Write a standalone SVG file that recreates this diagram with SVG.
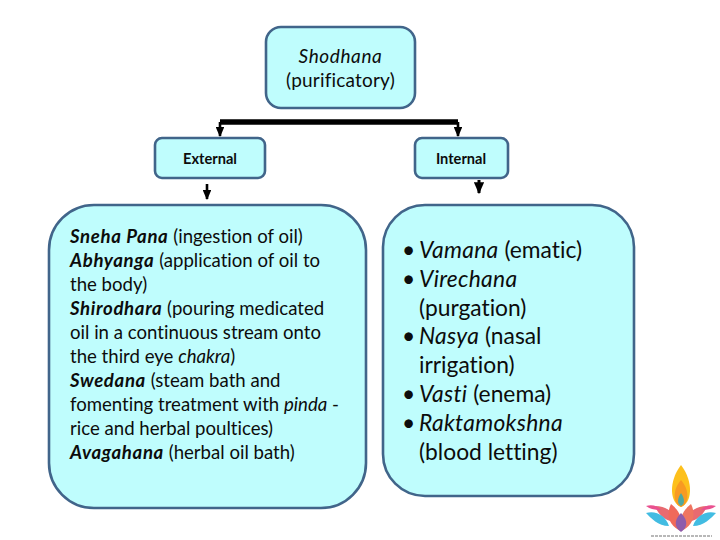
<svg xmlns="http://www.w3.org/2000/svg" width="720" height="540" viewBox="0 0 720 540">
<style>
.box{fill:#bffdfd;stroke:#41658a;stroke-width:2.6}
text{font-family:Lato,"Open Sans","Liberation Sans",sans-serif;fill:#0c0c0c;font-variant-ligatures:none}
.t1{font-size:18.6px}
.t2{font-size:22.8px}
.s{font-size:14.6px;font-weight:700;text-anchor:middle}
.m{font-size:19px;text-anchor:middle;letter-spacing:.2px}
.b{font-weight:700;font-style:italic;letter-spacing:.65px}
.i{font-style:italic}
.t2 .i{letter-spacing:.3px}
.c{fill:none;stroke:#000}
</style>
<defs><marker id="a" markerWidth="4" markerHeight="3.4" refX="3.6" refY="1.7" orient="auto"><path d="M0 0L4 1.7L0 3.4Z" fill="#000"/></marker></defs>
<rect width="720" height="540" fill="#fff"/>
<g id="connectors">
<path class="c" stroke-width="5.5" d="M220 122H458"/>
<path class="c" stroke-width="2.6" marker-end="url(#a)" d="M220 122V136"/>
<path class="c" stroke-width="2.6" marker-end="url(#a)" d="M458 122V136"/>
<path class="c" stroke-width="2.6" marker-end="url(#a)" d="M207 184V199"/>
<path class="c" stroke-width="3" marker-end="url(#a)" d="M479 180V193"/>
</g>
<g id="shodhana">
<rect class="box" x="266" y="27" width="149" height="81" rx="15"/>
<text class="m i" x="340.500" y="63" style="letter-spacing:.6px">Shodhana</text>
<text class="m" x="340.500" y="86.500">(purificatory)</text>
</g>
<g id="external">
<rect class="box" x="155" y="138" width="110" height="40" rx="7"/>
<text class="s" x="210" y="164">External</text>
</g>
<g id="internal">
<rect class="box" x="415" y="138" width="93" height="40" rx="7"/>
<text class="s" x="461" y="164">Internal</text>
</g>
<g id="external-list">
<rect class="box" x="49" y="205" width="317" height="303" rx="45"/>
<text class="t1" x="70" y="242.500"><tspan class="b">Sneha Pana</tspan> (ingestion of oil)</text>
<text class="t1" x="70" y="266.500"><tspan class="b">Abhyanga</tspan> (application of oil to</text>
<text class="t1" x="70" y="290.500">the body)</text>
<text class="t1" x="70" y="314.500"><tspan class="b">Shirodhara</tspan> (pouring medicated</text>
<text class="t1" x="70" y="338.500">oil in a continuous stream onto</text>
<text class="t1" x="70" y="362.500">the third eye <tspan class="i">chakra</tspan>)</text>
<text class="t1" x="70" y="386.500"><tspan class="b">Swedana</tspan> (steam bath and</text>
<text class="t1" x="70" y="410.500">fomenting treatment with <tspan class="i">pinda</tspan> -</text>
<text class="t1" x="70" y="434.500">rice and herbal poultices)</text>
<text class="t1" x="70" y="458.500"><tspan class="b">Avagahana</tspan> (herbal oil bath)</text>
</g>
<g id="internal-list">
<rect class="box" x="383" y="205" width="251" height="291" rx="42"/>
<text class="t2" x="402" y="258">•</text>
<text class="t2" x="419" y="258"><tspan class="i">Vamana</tspan> (ematic)</text>
<text class="t2" x="402" y="287">•</text>
<text class="t2" x="419" y="287"><tspan class="i">Virechana</tspan></text>
<text class="t2" x="419" y="316">(purgation)</text>
<text class="t2" x="402" y="344">•</text>
<text class="t2" x="419" y="344"><tspan class="i">Nasya</tspan> (nasal</text>
<text class="t2" x="419" y="373">irrigation)</text>
<text class="t2" x="402" y="402">•</text>
<text class="t2" x="419" y="402"><tspan class="i">Vasti</tspan> (enema)</text>
<text class="t2" x="402" y="431">•</text>
<text class="t2" x="419" y="431"><tspan class="i">Raktamokshna</tspan></text>
<text class="t2" x="419" y="460">(blood letting)</text>
</g>
<g id="logo">
<path d="M681 465C668 482 670 503 681 507C692 503 694 482 681 465Z" fill="#fdc01c"/>
<path d="M681 480C672 490 673 504 681 507C689 504 690 490 681 480Z" fill="#f89a22"/>
<path d="M681 493C677 499 677 504 681 506C685 504 685 499 681 493Z" fill="#4fa9a0"/>
<path d="M677 522C665 522 658 514 655 506C666 506 674 512 677 522Z" fill="#e86a70"/>
<path d="M685 522C697 522 704 514 707 506C696 506 688 512 685 522Z" fill="#e86a70"/>
<path d="M669 526C658 526 651 518 646 513C656 510 666 516 669 526Z" fill="#42bce2"/>
<path d="M693 526C704 526 711 518 716 513C706 510 696 516 693 526Z" fill="#42bce2"/>
<path d="M661 510C655 510 650 509 646 506C652 504 658 506 661 510Z" fill="#e9508f"/>
<path d="M701 510C707 510 712 509 716 506C710 504 704 506 701 510Z" fill="#e9508f"/>
<path d="M681 531C668 525 666 514 671 504C679 510 684 520 681 531Z" fill="#f0695a"/>
<path d="M681 531C694 525 696 514 691 504C683 510 678 520 681 531Z" fill="#ef7560"/>
<path d="M681 532C675 528 673 521 681 513C689 521 687 528 681 532Z" fill="#8e5cab"/>
<path d="M651 536H712" stroke="#8a8a8a" stroke-width="2" stroke-dasharray="3 1" opacity=".6"/>
</g>
</svg>
